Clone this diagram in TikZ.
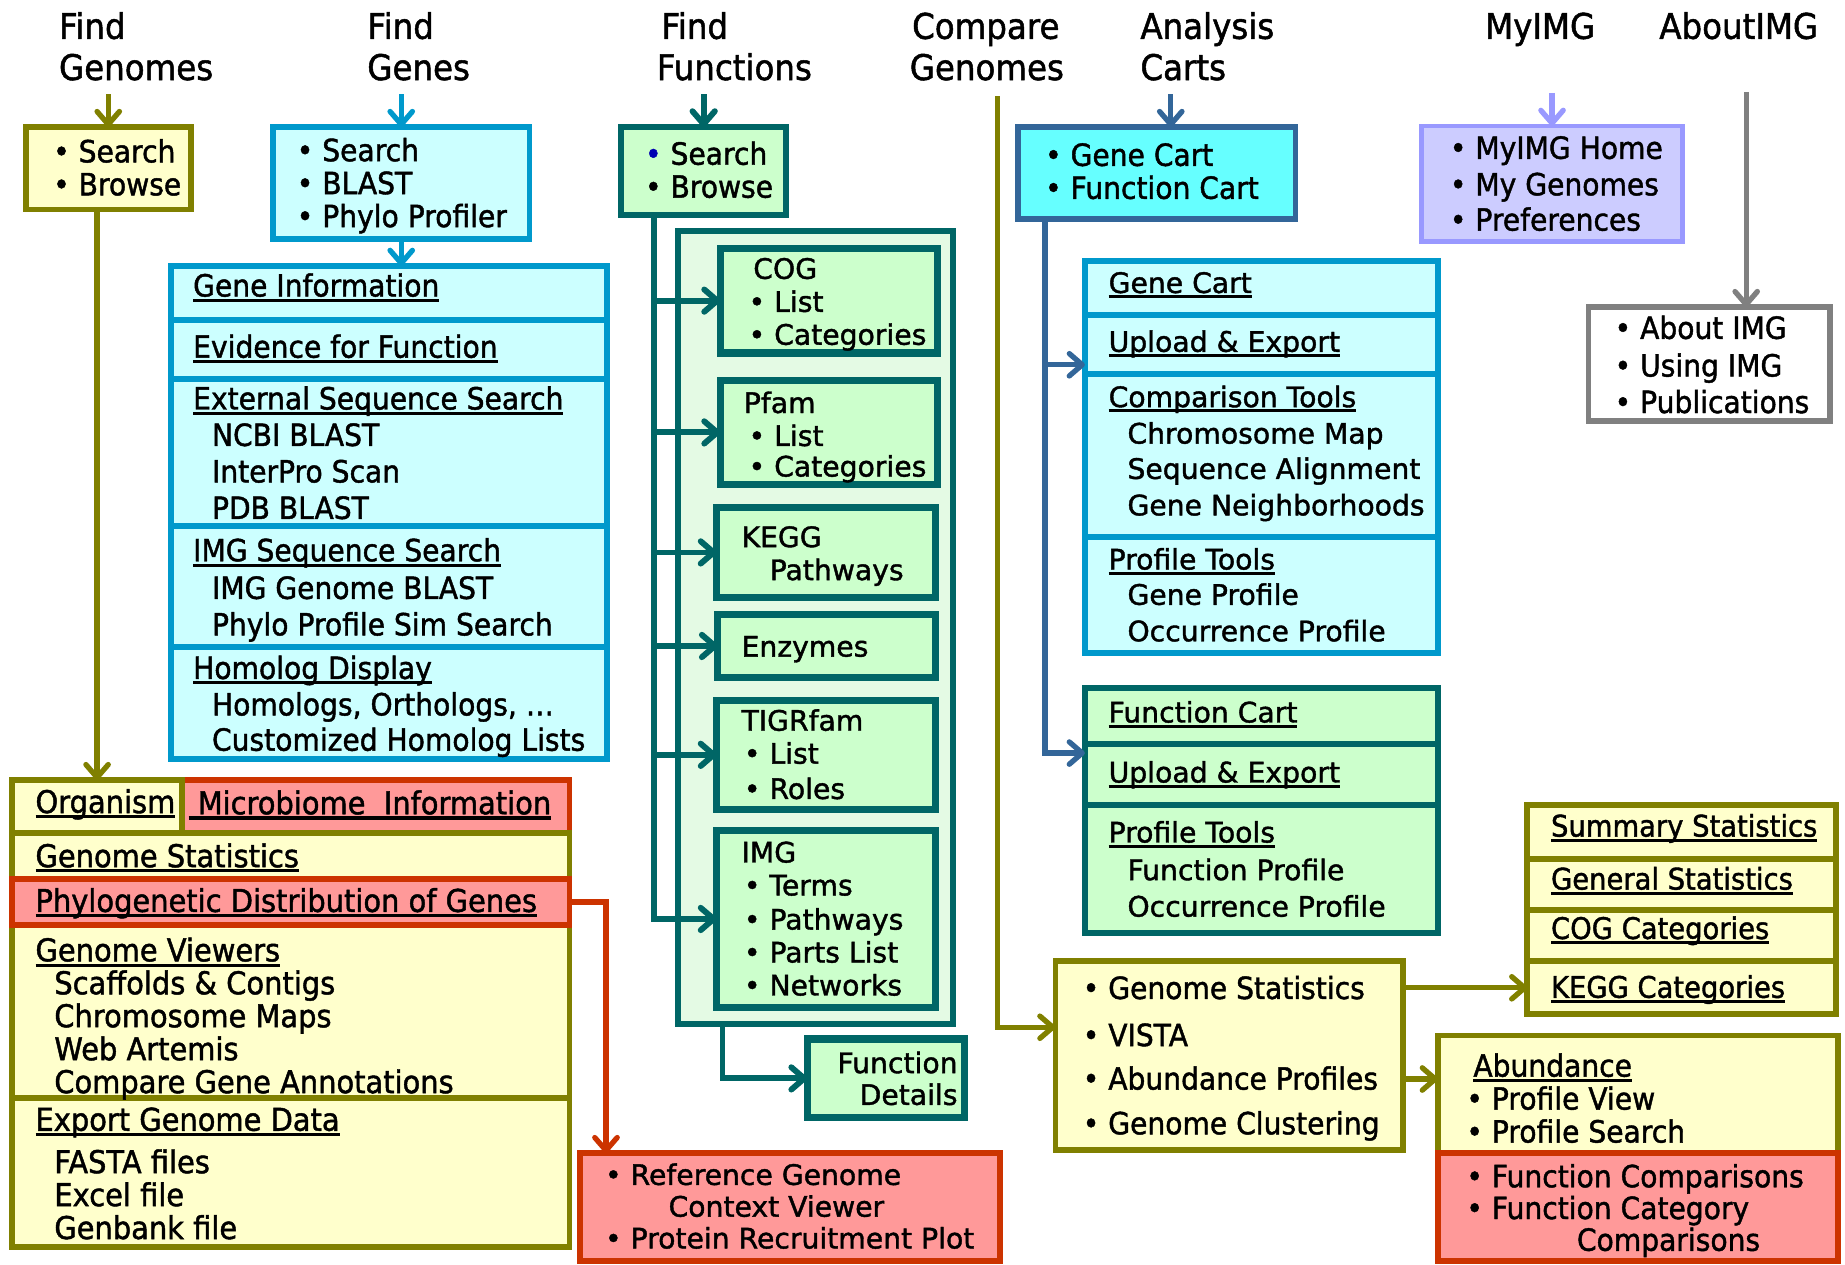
\documentclass[tikz,border=0pt]{standalone}
\usepackage{fontspec}
\setmainfont[FakeStretch=0.92,FakeBold=1.4]{DejaVu Sans}
\newfontfamily\wf[FakeBold=1.4]{DejaVu Sans}
\usetikzlibrary{arrows.meta}
\definecolor{olv}{HTML}{808000}
\definecolor{ylw}{HTML}{FFFFCC}
\definecolor{blu}{HTML}{0099CC}
\definecolor{cyn}{HTML}{CCFFFF}
\definecolor{tea}{HTML}{006666}
\definecolor{grn}{HTML}{CCFFCC}
\definecolor{lgrn}{HTML}{E4FAE4}
\definecolor{stl}{HTML}{336699}
\definecolor{bcy}{HTML}{66FFFF}
\definecolor{lav}{HTML}{9999FF}
\definecolor{lavf}{HTML}{CCCCFF}
\definecolor{gry}{HTML}{808080}
\definecolor{rdb}{HTML}{CC3300}
\definecolor{pnk}{HTML}{FF9999}
\newlength\ulw
\newcommand\undl[1]{\settowidth\ulw{#1}\rlap{\rule[-4.5pt]{\ulw}{2.6pt}}#1}
\newcounter{tn}
\newcommand\Tx[3][]{\stepcounter{tn}\node[txt,#1] (t\arabic{tn}) at (#2) {#3};}
\newcommand\Bx[6]{\node[#1, minimum width={#5pt-#3pt}, minimum height={#6pt-#4pt}] (#2) at ({(#3+#5)/2},{(#4+#6)/2}) {};}
\newcommand\cf{\fontsize{26}{31}\selectfont}
\tikzset{
 basebox/.style={draw, rectangle, line width=5pt, inner sep=0pt, outer sep=0pt},
 obox/.style={basebox, draw=olv, fill=ylw},
 bbox/.style={basebox, draw=blu, fill=cyn},
 tbox/.style={basebox, draw=tea, fill=grn},
 rbox/.style={basebox, draw=rdb, fill=pnk},
 txt/.style={inner sep=0pt, anchor=base west, font=\cf},
 wtxt/.style={font=\wf\fontsize{24}{28}\selectfont},
 stxt/.style={font=\fontsize{25.3}{30}\selectfont},
 gtxt/.style={font=\fontsize{26.7}{31}\selectfont},
 hd/.style={font=\fontsize{30}{36}\selectfont},
 conn/.style={line width=4.5pt, -{Straight Barb[length=11pt,width=19pt,round]}},
 oarr/.style={conn, draw=olv},
 barr/.style={conn, draw=blu},
 tarr/.style={conn, draw=tea, line width=5pt},
 sarr/.style={conn, draw=stl},
 larr/.style={conn, draw=lav},
 garr/.style={conn, draw=gry},
 rarr/.style={conn, draw=rdb},
}
\begin{document}
\begin{tikzpicture}[x=1pt,y=-1pt]
\useasboundingbox (0,0) rectangle (1568,1075);
% headings
\Tx[hd]{50,33}{Find} \Tx[hd]{50,68}{Genomes}
\Tx[hd]{312,33}{Find} \Tx[hd]{312,68}{Genes}
\Tx[hd]{562,33}{Find} \Tx[hd]{558,68}{Functions}
\Tx[hd]{775,33}{Compare} \Tx[hd]{773,68}{Genomes}
\Tx[hd]{969,33}{Analysis} \Tx[hd]{969,68}{Carts}
\Tx[hd]{1262,33}{MyIMG}
\Tx[hd]{1410,33}{AboutIMG}

% top boxes
\Bx{obox}{gs}{22}{108}{162}{178}
\Tx{45,138}{• Search} \Tx{45,166}{• Browse}
\Bx{bbox}{gn}{232}{108}{450}{203}
\Tx{252,137}{• Search} \Tx{252,165}{• BLAST} \Tx{252,193}{• Phylo Profiler}
\Bx{tbox}{fs}{528}{108}{668}{183}
\Tx{548,140}{\textcolor{blue!70!black}{•} Search} \Tx{548,168}{• Browse}
\Bx{basebox, draw=stl, fill=bcy}{cb}{865}{108}{1101}{186}
\Tx{888,141}{• Gene Cart} \Tx{888,169}{• Function Cart}
\Bx{basebox, line width=4pt, draw=lav, fill=lavf}{my}{1208}{107}{1430}{205}
\Tx{1232,135}{• MyIMG Home} \Tx{1232,166}{• My Genomes} \Tx{1232,196}{• Preferences}
\Bx{basebox, draw=gry, fill=white}{ab}{1350}{261}{1555}{358}
\Tx{1372,288}{• About IMG} \Tx{1372,320}{• Using IMG} \Tx{1372,351}{• Publications}

% gene information stack
\Bx{bbox}{gi1}{145}{226}{516}{272}
\Bx{bbox}{gi2}{145}{272}{516}{322}
\Bx{bbox}{gi3}{145}{322}{516}{447}
\Bx{bbox}{gi4}{145}{447}{516}{550}
\Bx{bbox}{gi5}{145}{550}{516}{645}
\Tx{164,252}{\undl{Gene Information}}
\Tx{164,304}{\undl{Evidence for Function}}
\Tx{164,348}{\undl{External Sequence Search}}
\Tx{180,379}{NCBI BLAST}
\Tx{180,410}{InterPro Scan}
\Tx{180,441}{PDB BLAST}
\Tx{164,477}{\undl{IMG Sequence Search}}
\Tx{180,509}{IMG Genome BLAST}
\Tx{180,540}{Phylo Profile Sim Search}
\Tx{164,577}{\undl{Homolog Display}}
\Tx{180,608}{Homologs, Orthologs, …}
\Tx{180,638}{Customized Homolog Lists}

% function container
\Bx{basebox, draw=tea, fill=lgrn}{fc}{576}{196}{810}{870}
\Bx{tbox, line width=6pt}{cog}{612}{211}{797}{300}
\Bx{tbox, line width=6pt}{pf}{612}{323}{797}{412}
\Bx{tbox, line width=6pt}{kg}{609}{431}{795}{508}
\Bx{tbox, line width=6pt}{ez}{610}{522}{795}{576}
\Bx{tbox, line width=6pt}{tg}{609}{595}{795}{688}
\Bx{tbox, line width=6pt}{im}{609}{706}{795}{856}
\Bx{tbox, line width=6pt}{fd}{686}{883}{820}{950}
\Tx[wtxt]{640,237}{COG}
\Tx[wtxt]{636,265}{• List}
\Tx[wtxt]{636,293}{• Categories}
\Tx[wtxt]{632,351}{Pfam}
\Tx[wtxt]{636,379}{• List}
\Tx[wtxt]{636,405}{• Categories}
\Tx[wtxt]{630,465}{KEGG}
\Tx[wtxt]{654,493}{Pathways}
\Tx[wtxt]{630,558}{Enzymes}
\Tx[wtxt]{630,621}{TIGRfam}
\Tx[wtxt]{632,649}{• List}
\Tx[wtxt]{632,679}{• Roles}
\Tx[wtxt]{630,733}{IMG}
\Tx[wtxt]{632,761}{• Terms}
\Tx[wtxt]{632,790}{• Pathways}
\Tx[wtxt]{632,818}{• Parts List}
\Tx[wtxt]{632,846}{• Networks}
\Tx[wtxt, anchor=base east]{814,912}{Function}
\Tx[wtxt, anchor=base east]{814,939}{Details}

% gene cart stack
\Bx{bbox}{gc1}{922}{222}{1222}{268}
\Bx{bbox}{gc2}{922}{268}{1222}{318}
\Bx{bbox}{gc3}{922}{318}{1222}{456}
\Bx{bbox}{gc4}{922}{456}{1222}{555}
\Tx[wtxt]{942,249}{\undl{Gene Cart}}
\Tx[wtxt]{942,299}{\undl{Upload \& Export}}
\Tx[wtxt]{942,346}{\undl{Comparison Tools}}
\Tx[wtxt]{958,377}{Chromosome Map}
\Tx[wtxt]{958,407}{Sequence Alignment}
\Tx[wtxt]{958,438}{Gene Neighborhoods}
\Tx[wtxt]{942,484}{\undl{Profile Tools}}
\Tx[wtxt]{958,514}{Gene Profile}
\Tx[wtxt]{958,545}{Occurrence Profile}

% function cart stack
\Bx{tbox}{fc1}{922}{585}{1222}{632}
\Bx{tbox}{fc2}{922}{632}{1222}{684}
\Bx{tbox}{fc3}{922}{684}{1222}{793}
\Tx[wtxt]{942,614}{\undl{Function Cart}}
\Tx[wtxt]{942,665}{\undl{Upload \& Export}}
\Tx[wtxt]{942,716}{\undl{Profile Tools}}
\Tx[wtxt]{958,748}{Function Profile}
\Tx[wtxt]{958,779}{Occurrence Profile}

% compare genomes
\Bx{obox}{cmp}{897}{817}{1192}{977}
\Tx{920,849}{• Genome Statistics}
\Tx{920,889}{• VISTA}
\Tx{920,926}{• Abundance Profiles}
\Tx{920,964}{• Genome Clustering}
\Bx{obox}{sm1}{1298}{684}{1560}{730}
\Bx{obox}{sm2}{1298}{730}{1560}{773}
\Bx{obox}{sm3}{1298}{773}{1560}{817}
\Bx{obox}{sm4}{1298}{817}{1560}{862}
\Tx[stxt]{1318,711}{\undl{Summary Statistics}}
\Tx[stxt]{1318,756}{\undl{General Statistics}}
\Tx[stxt]{1318,798}{\undl{COG Categories}}
\Tx[stxt]{1318,848}{\undl{KEGG Categories}}
\Bx{obox}{abd}{1222}{880}{1562}{980}
\Bx{rbox}{fcmp}{1222}{980}{1562}{1072}
\Tx{1252,915}{\undl{Abundance}}
\Tx{1246,943}{• Profile View}
\Tx{1246,971}{• Profile Search}
\Tx{1246,1009}{• Function Comparisons}
\Tx{1246,1036}{• Function Category}
\Tx{1340,1063}{Comparisons}

% genome stack
\Bx{rbox}{mic}{155}{663}{484}{708}
\Bx{obox}{org}{10}{663}{155}{708}
\Bx{obox}{gst}{10}{708}{484}{747}
\Bx{obox}{gvw}{10}{786}{484}{933}
\Bx{obox}{gex}{10}{933}{484}{1060}
\Bx{rbox}{phy}{10}{747}{484}{786}
\Tx[gtxt]{30,691}{\undl{Organism}}
\Tx[gtxt]{160,692}{\undl{~Microbiome~~Information}}
\Tx[gtxt]{30,737}{\undl{Genome Statistics}}
\Tx[gtxt]{30,775}{\undl{Phylogenetic Distribution of Genes}}
\Tx[gtxt]{30,817}{\undl{Genome Viewers}}
\Tx[gtxt]{46,845}{Scaffolds \& Contigs}
\Tx[gtxt]{46,873}{Chromosome Maps}
\Tx[gtxt]{46,901}{Web Artemis}
\Tx[gtxt]{46,929}{Compare Gene Annotations}
\Tx[gtxt]{30,961}{\undl{Export Genome Data}}
\Tx[gtxt]{46,997}{FASTA files}
\Tx[gtxt]{46,1025}{Excel file}
\Tx[gtxt]{46,1053}{Genbank file}

% reference genome box
\Bx{rbox}{rg}{493}{980}{850}{1072}
\Tx[wtxt]{514,1007}{• Reference Genome}
\Tx[wtxt]{568,1034}{Context Viewer}
\Tx[wtxt]{514,1061}{• Protein Recruitment Plot}

% connectors
\coordinate (a1) at ([yshift=28pt]gs.north);
\draw[oarr] (a1) -- (gs.north);
\draw[oarr] (gs.south -| org.north) -- (org.north);
\coordinate (a2) at ([yshift=28pt]gn.north);
\draw[barr] (a2) -- (gn.north);
\draw[barr] (gn.south) -- (gn.south |- gi1.north);
\coordinate (a3) at ([yshift=28pt]fs.north);
\draw[tarr] (a3) -- (fs.north);
\coordinate (fx) at ([xshift=28pt]fs.south west);
\draw[tarr] (fx) |- (im.west);
\foreach \n in {cog,pf,kg,ez,tg} \draw[tarr] (fx |- \n.west) -- (\n.west);
\coordinate (fdx) at ([xshift=38pt]fc.south west);
\draw[tarr] (fdx) |- (fd.west);
\coordinate (a4) at (995,80);
\draw[sarr] (a4) -- (a4 |- cb.north);
\coordinate (cx) at ([xshift=23pt]cb.south west);
\coordinate (gin) at ([yshift=8pt]gc2.south west);
\coordinate (fin) at ([yshift=-8pt]fc2.north west);
\draw[sarr] (cx) |- (fin);
\draw[sarr] (cx |- gin) -- (gin);
\coordinate (ct) at (848,82);
\coordinate (cin) at ([yshift=24pt]cmp.west);
\draw[oarr] (ct) |- (cin);
\draw[oarr] (sm4.west -| cmp.east) -- (sm4.west);
\coordinate (ain) at ([yshift=13pt]abd.west);
\draw[oarr] (ain -| cmp.east) -- (ain);
\coordinate (mt) at ([yshift=28pt]my.north);
\draw[larr] (mt) -- (my.north);
\coordinate (abt) at (1484,78);
\draw[garr] (abt) -- (abt |- ab.north);
\draw[rarr] (phy.east) -| ([xshift=22pt]rg.north west);
\end{tikzpicture}
\end{document}
